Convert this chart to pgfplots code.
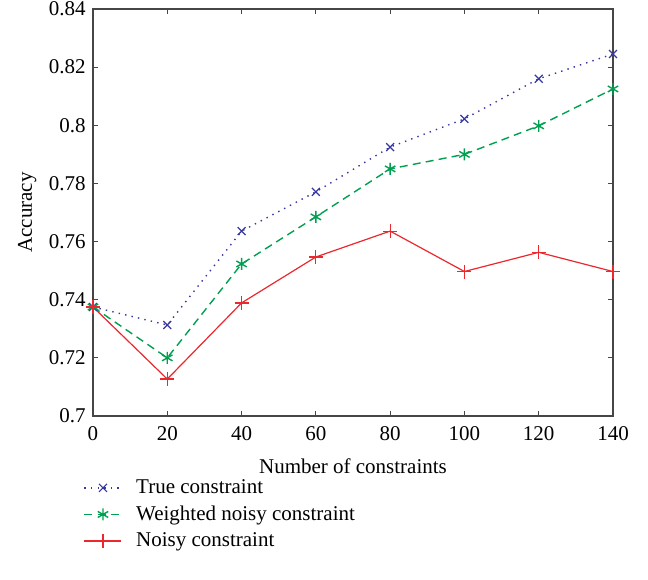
\documentclass[border=0pt]{standalone}
\usepackage{fontspec}
\setmainfont{Liberation Serif}
\usepackage{pgfplots}
\pgfplotsset{compat=1.18}
\usetikzlibrary{calc}

\definecolor{trueblue}{RGB}{55,55,160}
\definecolor{wgreen}{RGB}{0,160,80}
\definecolor{nred}{RGB}{235,40,45}
\definecolor{axgray}{RGB}{70,70,70}

\begin{document}
\fontsize{10.5}{12.6}\selectfont
\begin{tikzpicture}
\begin{axis}[name=ax,
    scale only axis,
    width=260pt, height=203.5pt,
    xmin=0, xmax=140, ymin=0.7, ymax=0.84,
    xtick={0,20,...,140},
    ytick={0.7,0.72,...,0.84},
    axis line style={axgray, line width=0.6pt},
    tick style={axgray, line width=0.5pt},
    major tick length=2.5pt,
    tick align=inside,
    /pgf/number format/assume math mode=true,
    yticklabel style={/pgf/number format/fixed, /pgf/number format/precision=2},
    xticklabel style={yshift=-1.5pt},
    xlabel={Number of constraints},
    ylabel={Accuracy},
    xlabel style={yshift=-2pt},
    ylabel style={yshift=-1pt},
    legend cell align=left,
    legend style={at={(-0.03,-0.135)}, anchor=north west, draw=none, fill=none,
                  row sep=0.6pt, font=\fontsize{10.5}{12.6}\selectfont,
                  /tikz/every odd column/.append style={column sep=5pt}},
    legend image code/.code={
        \draw[#1] (0cm,0cm) -- (0.65cm,0cm);
        \draw[#1, solid] plot coordinates {(0.325cm,0cm)};
    },
]
\addplot[trueblue, line width=0.7pt, dash pattern=on 0.7pt off 2.6pt,
         mark=x, mark size=2.8pt, mark options={solid, line width=0.6pt}] coordinates {
    (0,0.7375) (20,0.7313) (40,0.7636) (60,0.7771) (80,0.7925)
    (100,0.8022) (120,0.8160) (140,0.8245)
};
\addlegendentry{True constraint}
\addplot[wgreen, line width=0.7pt, dash pattern=on 4pt off 2.6pt,
         mark=asterisk, mark size=3pt, mark options={solid, line width=0.7pt}] coordinates {
    (0,0.7375) (20,0.7200) (40,0.7523) (60,0.7685) (80,0.7850)
    (100,0.7900) (120,0.7998) (140,0.8125)
};
\addlegendentry{Weighted noisy constraint}
\addplot[nred, line width=0.6pt,
         mark=+, mark size=3.5pt, mark options={solid, line width=0.6pt}] coordinates {
    (0,0.7375) (20,0.7127) (40,0.7389) (60,0.7547) (80,0.7636)
    (100,0.7497) (120,0.7563) (140,0.7497)
};
\addlegendentry{Noisy constraint}
\end{axis}
\pgfresetboundingbox
\path ($(ax.south west)+(-46.5pt,-81.5pt)$) rectangle ($(ax.north east)+(17.5pt,4.5pt)$);
\end{tikzpicture}
\end{document}
